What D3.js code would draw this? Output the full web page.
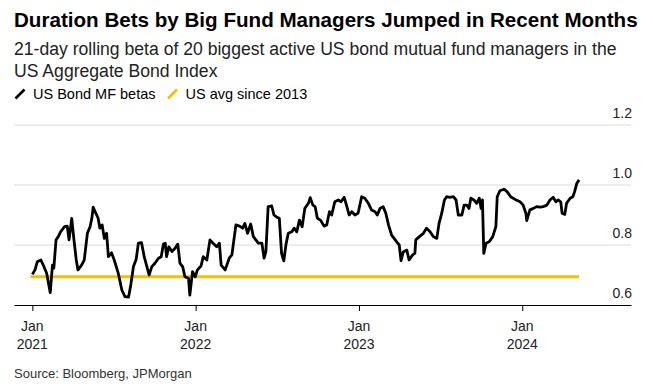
<!DOCTYPE html>
<html>
<head>
<meta charset="utf-8">
<script src="https://cdn.jsdelivr.net/npm/d3@7"></script>
<style>
  body { margin: 0; background: #fff; }
  svg text { font-family: "Liberation Sans", Arial, sans-serif; }
</style>
</head>
<body>
<svg id="chart"></svg>
<script>
// 21-day rolling beta
const betaSeries = [
  ["2021-01-01", 0.702], ["2021-01-07", 0.717], ["2021-01-12", 0.744], ["2021-01-20", 0.75],
  ["2021-01-26", 0.731], ["2021-02-02", 0.706], ["2021-02-10", 0.641], ["2021-02-15", 0.733],
  ["2021-02-18", 0.723], ["2021-02-23", 0.817], ["2021-02-28", 0.828], ["2021-03-05", 0.844],
  ["2021-03-14", 0.861], ["2021-03-20", 0.863], ["2021-03-24", 0.817], ["2021-03-30", 0.889],
  ["2021-04-04", 0.817], ["2021-04-09", 0.752], ["2021-04-13", 0.717], ["2021-04-21", 0.733],
  ["2021-04-27", 0.75], ["2021-05-04", 0.839], ["2021-05-10", 0.861], ["2021-05-14", 0.889],
  ["2021-05-17", 0.926], ["2021-05-23", 0.906], ["2021-05-28", 0.889], ["2021-06-01", 0.856],
  ["2021-06-06", 0.867], ["2021-06-11", 0.822], ["2021-06-16", 0.839], ["2021-06-20", 0.761],
  ["2021-06-27", 0.774], ["2021-07-03", 0.75], ["2021-07-12", 0.706], ["2021-07-20", 0.65],
  ["2021-07-27", 0.628], ["2021-08-04", 0.626], ["2021-08-09", 0.667], ["2021-08-15", 0.728],
  ["2021-08-21", 0.752], ["2021-08-26", 0.806], ["2021-09-02", 0.808], ["2021-09-08", 0.761],
  ["2021-09-14", 0.728], ["2021-09-19", 0.70], ["2021-09-25", 0.728], ["2021-10-02", 0.739],
  ["2021-10-10", 0.756], ["2021-10-16", 0.761], ["2021-10-21", 0.803], ["2021-10-25", 0.806],
  ["2021-10-28", 0.761], ["2021-11-02", 0.794], ["2021-11-09", 0.778], ["2021-11-16", 0.789],
  ["2021-11-22", 0.803], ["2021-11-27", 0.739], ["2021-12-03", 0.728], ["2021-12-08", 0.694],
  ["2021-12-16", 0.689], ["2021-12-19", 0.633], ["2021-12-25", 0.711], ["2021-12-31", 0.694],
  ["2022-01-05", 0.717], ["2022-01-13", 0.73], ["2022-01-18", 0.761], ["2022-01-26", 0.75],
  ["2022-02-02", 0.817], ["2022-02-09", 0.806], ["2022-02-17", 0.794], ["2022-02-23", 0.806],
  ["2022-02-27", 0.733], ["2022-03-08", 0.717], ["2022-03-17", 0.756], ["2022-03-23", 0.767],
  ["2022-04-01", 0.867], ["2022-04-09", 0.863], ["2022-04-16", 0.856], ["2022-04-21", 0.872],
  ["2022-04-27", 0.839], ["2022-05-04", 0.87], ["2022-05-10", 0.828], ["2022-05-21", 0.806],
  ["2022-05-29", 0.806], ["2022-06-03", 0.756], ["2022-06-07", 0.778], ["2022-06-12", 0.928],
  ["2022-06-20", 0.93], ["2022-06-25", 0.90], ["2022-07-02", 0.892], ["2022-07-07", 0.889],
  ["2022-07-12", 0.772], ["2022-07-17", 0.747], ["2022-07-22", 0.803], ["2022-07-27", 0.839],
  ["2022-08-04", 0.844], ["2022-08-09", 0.856], ["2022-08-15", 0.844], ["2022-08-21", 0.883],
  ["2022-08-27", 0.861], ["2022-09-02", 0.922], ["2022-09-10", 0.939], ["2022-09-14", 0.958],
  ["2022-09-20", 0.933], ["2022-09-25", 0.928], ["2022-09-30", 0.889], ["2022-10-07", 0.883],
  ["2022-10-15", 0.863], ["2022-10-21", 0.867], ["2022-10-27", 0.911], ["2022-11-01", 0.90],
  ["2022-11-08", 0.944], ["2022-11-16", 0.95], ["2022-11-22", 0.944], ["2022-11-29", 0.959],
  ["2022-12-05", 0.928], ["2022-12-10", 0.90], ["2022-12-16", 0.911], ["2022-12-23", 0.90],
  ["2022-12-30", 0.906],
  ["2023-01-07", 0.961], ["2023-01-14", 0.956], ["2023-01-22", 0.939], ["2023-01-29", 0.917],
  ["2023-02-06", 0.911], ["2023-02-11", 0.90], ["2023-02-17", 0.922], ["2023-02-24", 0.928],
  ["2023-03-02", 0.906], ["2023-03-08", 0.867], ["2023-03-15", 0.833], ["2023-03-26", 0.811],
  ["2023-04-01", 0.80], ["2023-04-05", 0.748], ["2023-04-10", 0.777], ["2023-04-18", 0.783],
  ["2023-04-23", 0.75], ["2023-05-01", 0.767], ["2023-05-06", 0.772], ["2023-05-08", 0.817],
  ["2023-05-16", 0.828], ["2023-05-25", 0.839], ["2023-06-01", 0.856], ["2023-06-09", 0.844],
  ["2023-06-16", 0.828], ["2023-06-24", 0.822], ["2023-06-29", 0.872], ["2023-07-05", 0.906],
  ["2023-07-11", 0.95], ["2023-07-16", 0.961], ["2023-07-23", 0.959], ["2023-07-31", 0.961],
  ["2023-08-06", 0.95], ["2023-08-11", 0.90], ["2023-08-19", 0.90], ["2023-08-24", 0.933],
  ["2023-08-30", 0.933], ["2023-09-04", 0.922], ["2023-09-08", 0.956], ["2023-09-15", 0.95],
  ["2023-09-21", 0.939], ["2023-09-27", 0.956], ["2023-10-01", 0.922], ["2023-10-04", 0.95],
  ["2023-10-07", 0.772], ["2023-10-12", 0.806], ["2023-10-19", 0.811], ["2023-10-27", 0.828],
  ["2023-11-03", 0.861], ["2023-11-06", 0.961], ["2023-11-12", 0.981], ["2023-11-21", 0.986],
  ["2023-11-28", 0.978], ["2023-12-06", 0.961], ["2023-12-16", 0.952], ["2023-12-27", 0.944],
  ["2024-01-03", 0.933], ["2024-01-09", 0.906], ["2024-01-11", 0.881], ["2024-01-18", 0.917],
  ["2024-01-26", 0.922], ["2024-02-02", 0.928], ["2024-02-10", 0.926], ["2024-02-17", 0.928],
  ["2024-02-25", 0.933], ["2024-03-03", 0.95], ["2024-03-10", 0.959], ["2024-03-16", 0.944],
  ["2024-03-21", 0.95], ["2024-03-27", 0.944], ["2024-03-30", 0.906], ["2024-04-05", 0.902],
  ["2024-04-09", 0.939], ["2024-04-17", 0.956], ["2024-04-23", 0.961], ["2024-04-27", 0.978],
  ["2024-05-02", 1.006], ["2024-05-07", 1.017]
]

// US average since 2013, flat over the plotted period
const avgSince2013 = 0.694
const avgSpan = ["2020-12-28", "2024-05-07"]

const yTicks = [0.6, 0.8, 1.0, 1.2]
const xTicks = ["2021-01-01", "2022-01-01", "2023-01-01", "2024-01-01"]
const xDomain = ["2020-11-21", "2024-08-31"]

const legendItems = [
  {label: "US Bond MF betas", color: "#000000"},
  {label: "US avg since 2013", color: "#f2c100"}
]

const titleText = "Duration Bets by Big Fund Managers Jumped in Recent Months"
const subtitleLines = [
  "21-day rolling beta of 20 biggest active US bond mutual fund managers in the",
  "US Aggregate Bond Index"
]
const sourceText = "Source: Bloomberg, JPMorgan"

const width = 653
const height = 387
const plot = {left: 14, right: 631, top: 125, bottom: 305}

const parse = d3.utcParse("%Y-%m-%d")
const fmtMonth = d3.utcFormat("%b")
const fmtYear = d3.utcFormat("%Y")

const x = d3.scaleUtc()
  .domain(xDomain.map(parse))
  .range([plot.left, plot.right])

const y = d3.scaleLinear()
  .domain([0.6, 1.2])
  .range([plot.bottom, plot.top])

const svg = d3.select("#chart")
  .attr("width", width)
  .attr("height", height)
  .attr("viewBox", `0 0 ${width} ${height}`)

// header
svg.append("text")
  .attr("x", 14)
  .attr("y", 27)
  .attr("font-size", 20.6)
  .attr("font-weight", "bold")
  .attr("fill", "#000")
  .text(titleText)

svg.selectAll(".subtitle")
  .data(subtitleLines)
  .join("text")
  .attr("class", "subtitle")
  .attr("x", 14)
  .attr("y", (d, i) => 55 + i * 22)
  .attr("font-size", 17.6)
  .attr("fill", "#222")
  .text(d => d)

// legend
const legend = svg.append("g").attr("transform", "translate(15,99)")
let legendX = 0
legendItems.forEach(item => {
  const g = legend.append("g").attr("transform", `translate(${legendX},0)`)
  g.append("line")
    .attr("x1", 0.5).attr("y1", -0.5)
    .attr("x2", 9.5).attr("y2", -9.5)
    .attr("stroke", item.color)
    .attr("stroke-width", 2.6)
  const t = g.append("text")
    .attr("x", 18)
    .attr("y", 0)
    .attr("font-size", 14.5)
    .attr("fill", "#000")
    .text(item.label)
  legendX += 18 + t.node().getComputedTextLength() + 12
})

// grid + y labels
svg.append("g")
  .selectAll("line")
  .data(yTicks.filter(v => v > 0.6))
  .join("line")
  .attr("x1", plot.left)
  .attr("x2", plot.right)
  .attr("y1", d => y(d))
  .attr("y2", d => y(d))
  .attr("stroke", "#dcdcdc")
  .attr("stroke-width", 1)

svg.append("g")
  .selectAll("text")
  .data(yTicks)
  .join("text")
  .attr("x", plot.right + 1)
  .attr("y", d => y(d) - 7.5)
  .attr("text-anchor", "end")
  .attr("font-size", 14)
  .attr("fill", "#222")
  .text(d => d.toFixed(1))

// x axis
const xAxis = svg.append("g")
  .attr("transform", `translate(0,${plot.bottom})`)
  .call(d3.axisBottom(x)
    .tickValues(xTicks.map(parse))
    .tickSize(6)
    .tickSizeOuter(0)
    .tickFormat(""))

xAxis.select(".domain").attr("stroke", "#000")
xAxis.selectAll(".tick line").attr("stroke", "#000")

const tickLabels = svg.append("g")
  .selectAll("g")
  .data(xTicks.map(parse))
  .join("g")
  .attr("transform", d => `translate(${x(d)},0)`)

tickLabels.append("text")
  .attr("y", 331)
  .attr("text-anchor", "middle")
  .attr("font-size", 14)
  .attr("fill", "#222")
  .text(d => fmtMonth(d))

tickLabels.append("text")
  .attr("y", 349)
  .attr("text-anchor", "middle")
  .attr("font-size", 14)
  .attr("fill", "#222")
  .text(d => fmtYear(d))

// series
const avgLine = avgSpan.map(d => [parse(d), avgSince2013])
svg.append("path")
  .datum(avgLine)
  .attr("fill", "none")
  .attr("stroke", legendItems[1].color)
  .attr("stroke-width", 3)
  .attr("d", d3.line().x(d => x(d[0])).y(d => y(d[1])))

const betaLine = betaSeries.map(([d, v]) => [parse(d), v])
svg.append("path")
  .datum(betaLine)
  .attr("fill", "none")
  .attr("stroke", legendItems[0].color)
  .attr("stroke-width", 2.8)
  .attr("stroke-linejoin", "round")
  .attr("d", d3.line().x(d => x(d[0])).y(d => y(d[1])))

// footer
svg.append("text")
  .attr("x", 14)
  .attr("y", 378)
  .attr("font-size", 13)
  .attr("fill", "#333")
  .text(sourceText)
</script>
</body>
</html>
